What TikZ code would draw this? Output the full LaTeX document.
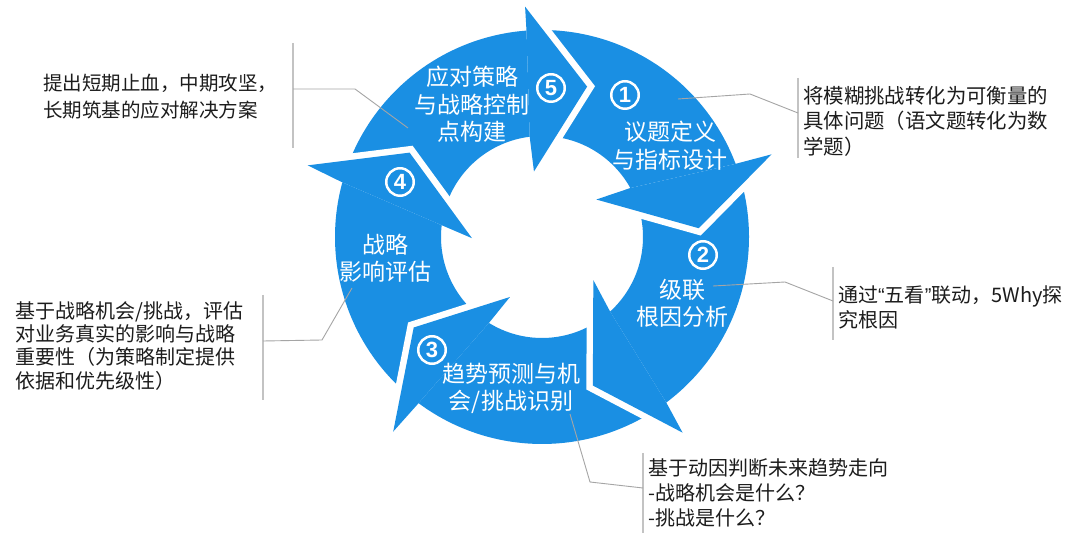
\documentclass[tikz,border=0pt]{standalone}
\usepackage{fontspec}
\setmainfont{Noto Sans CJK SC}
\newfontfamily\numfont{Liberation Sans}
\definecolor{cycblue}{RGB}{26,143,227}
\definecolor{txtc}{RGB}{28,28,28}
\definecolor{leadc}{RGB}{165,165,165}
\definecolor{brkc}{RGB}{195,195,195}
\tikzset{
  headcut/.style={draw=white, line width=13pt, line join=miter},
  cyclabel/.style={text=white, align=center, inner sep=0pt},
  numc/.style={circle, draw=white, line width=2.5pt, minimum size=27.5pt, inner sep=0pt, text=white, font=\numfont\bfseries\fontsize{22}{22}\selectfont},
  note/.style={text=txtc, align=left, inner sep=0pt, anchor=west},
  leader/.style={draw=leadc, line width=0.9pt},
  bracket/.style={draw=brkc, line width=1.3pt},
}
% body: start angle, outer end angle (A), inner end angle (E)
\newcommand\cycbody[3]{\fill[cycblue] (#1:207pt) arc[start angle=#1, end angle=#2, radius=207pt] -- (#3:101pt) arc[start angle=#3, end angle=#1, radius=101pt] -- cycle;}
% head: tip, A, B, rB, D, rD, E
\newcommand\cychead[7]{%
  \draw[headcut] (#3:#4pt) -- (#1:157pt) -- (#5:#6pt);
  \fill[cycblue] (#2:207pt) -- (#3:#4pt) -- (#1:157pt) -- (#5:#6pt) -- (#7:101pt) -- cycle;}
\begin{document}
\begin{tikzpicture}[x=1pt,y=1pt]
\useasboundingbox (0,0) rectangle (1080,541);
\fill[white] (0,0) rectangle (1080,541);
\begin{scope}[shift={(542,304)}]
  \cycbody{88.3}{20.7}{29}
  \cycbody{18.2}{-53.1}{-47.6}
  \cycbody{-56.1}{-126.6}{-121.7}
  \cycbody{230.2}{164.7}{173.3}
  \cycbody{162.5}{94.3}{97}
  \cychead{3.2}{20.7}{19.8}{244}{34.6}{66}{29}
  \cychead{-71.1}{-53.1}{-54.3}{241}{-40}{67}{-47.6}
  \cychead{-144.8}{-126.6}{-127.4}{245}{-118.1}{68}{-121.7}
  \cychead{147.5}{164.7}{163}{245}{181}{70}{173.3}
  \cychead{73.3}{94.3}{94.2}{231}{97}{66}{97}
\end{scope}

% labels in the cycle
\node[cyclabel, font=\fontsize{23}{27.5}\selectfont] (l5) at (472,436.5) {应对策略\\与战略控制\\点构建};
\node[cyclabel, font=\fontsize{23}{28}\selectfont] (l1) at (670,395) {议题定义\\与指标设计};
\node[cyclabel, font=\fontsize{23}{27}\selectfont] (l2) at (682,238) {级联\\根因分析};
\node[cyclabel, font=\fontsize{23}{27}\selectfont] (l3) at (511,153) {趋势预测与机\\会/挑战识别};
\node[cyclabel, font=\fontsize{23}{27}\selectfont] (l4) at (385,283) {战略\\影响评估};

% circled numbers
\node[numc] (n5) at (551,453) {5};
\node[numc] (n1) at (625,446) {1};
\node[numc] (n2) at (703,286) {2};
\node[numc] (n3) at (432,191) {3};
\node[numc] (n4) at (400,359) {4};

% notes
\node[note, font=\fontsize{19.5}{26.7}\selectfont] (t5) at (43,444.3) {提出短期止血，中期攻坚，\\长期筑基的应对解决方案};
\node[note, font=\fontsize{20.4}{25.5}\selectfont] (t1) at (803,420) {将模糊挑战转化为可衡量的\\具体问题（语文题转化为数\\学题）};
\node[note, font=\fontsize{20}{25}\selectfont] (t2) at (838,233.5) {通过{\numfont “}五看{\numfont ”}联动，5Why探\\究根因};
\node[note, font=\fontsize{20}{25}\selectfont] (t3) at (648,47.7) {基于动因判断未来趋势走向\\-战略机会是什么？\\-挑战是什么？};
\node[note, font=\fontsize{20}{23.2}\selectfont] (t4) at (15,195.2) {基于战略机会/挑战，评估\\对业务真实的影响与战略\\重要性（为策略制定提供\\依据和优先级性）};

% brackets
\coordinate (b5a) at (293,498); \coordinate (b5b) at (293,393);
\coordinate (b1a) at (798,463); \coordinate (b1b) at (798,383);
\coordinate (b2a) at (833,274); \coordinate (b2b) at (833,201);
\coordinate (b3a) at (643,88);  \coordinate (b3b) at (643,8);
\coordinate (b4a) at (263,246); \coordinate (b4b) at (263,141);
\draw[bracket] (b5a) -- (b5b);
\draw[bracket] (b1a) -- (b1b);
\draw[bracket] (b2a) -- (b2b);
\draw[bracket] (b3a) -- (b3b);
\draw[bracket] (b4a) -- (b4b);

% leaders
\coordinate (p5) at (408,413); \coordinate (k5) at (355,452); \coordinate (e5) at (293,452);
\coordinate (p1) at (678,442); \coordinate (k1) at (750,447); \coordinate (e1) at (798,428);
\coordinate (p2) at (713,255); \coordinate (k2) at (785,259); \coordinate (e2) at (833,240);
\coordinate (p3) at (570,127); \coordinate (k3) at (590,59);  \coordinate (e3) at (643,53);
\coordinate (p4) at (352,253); \coordinate (k4) at (322,201); \coordinate (e4) at (263,200);
\draw[leader] (p5) -- (k5) -- (e5);
\draw[leader] (p1) -- (k1) -- (e1);
\draw[leader] (p2) -- (k2) -- (e2);
\draw[leader] (p3) -- (k3) -- (e3);
\draw[leader] (p4) -- (k4) -- (e4);
\end{tikzpicture}
\end{document}
